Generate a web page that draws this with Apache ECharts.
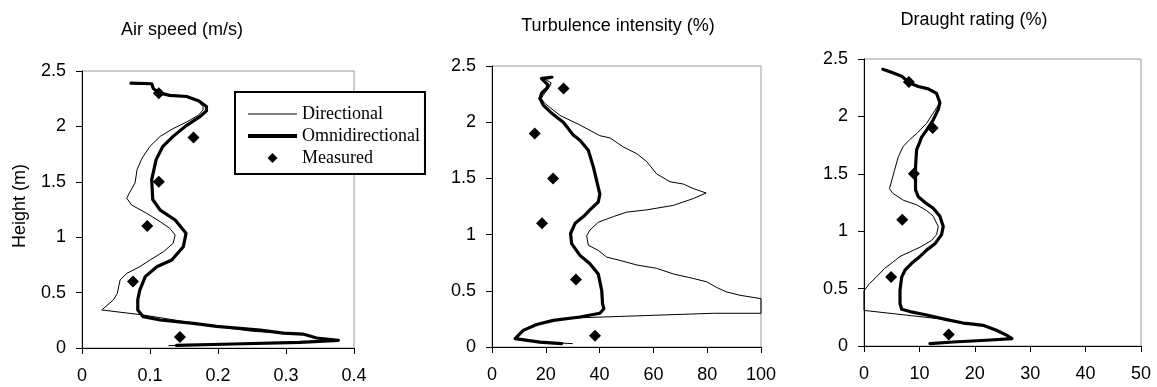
<!DOCTYPE html>
<html>
<head>
<meta charset="utf-8">
<script src="https://cdn.jsdelivr.net/npm/echarts@6/dist/echarts.min.js"></script>
<style>
html,body{margin:0;padding:0;background:#fff;}
#chart{width:1157px;height:387px;}
</style>
</head>
<body>
<div id="chart"></div>
<script>
// ---- Data (x value, height m) ----
var titles = ['Air speed (m/s)', 'Turbulence intensity (%)', 'Draught rating (%)'];
var seriesNames = ['Directional', 'Omnidirectional', 'Measured'];
var yAxisName = 'Height (m)';

var airDirectional = [[0.072,2.39],[0.1025,2.385],[0.105,2.34],[0.115,2.30],[0.129,2.28],[0.154,2.27],[0.170,2.23],[0.178,2.18],[0.178,2.148],[0.171,2.10],[0.154,2.04],[0.134,1.98],[0.115,1.91],[0.100,1.82],[0.088,1.71],[0.081,1.61],[0.078,1.49],[0.068,1.38],[0.066,1.35],[0.073,1.29],[0.095,1.216],[0.115,1.14],[0.129,1.08],[0.137,1.02],[0.134,0.945],[0.120,0.87],[0.100,0.794],[0.085,0.734],[0.066,0.674],[0.056,0.614],[0.052,0.494],[0.046,0.433],[0.029,0.343],[0.090,0.298],[0.164,0.225],[0.198,0.195],[0.252,0.15],[0.296,0.135],[0.325,0.126],[0.345,0.09],[0.377,0.069],[0.32,0.05],[0.222,0.036],[0.127,0.021]];
var airOmni = [[0.072,2.39],[0.1025,2.385],[0.105,2.34],[0.115,2.30],[0.129,2.28],[0.154,2.27],[0.172,2.23],[0.183,2.18],[0.183,2.14],[0.174,2.09],[0.154,2.01],[0.134,1.91],[0.119,1.82],[0.109,1.70],[0.1025,1.52],[0.104,1.34],[0.115,1.245],[0.137,1.155],[0.153,1.035],[0.149,0.914],[0.132,0.794],[0.110,0.734],[0.093,0.644],[0.085,0.523],[0.082,0.436],[0.082,0.343],[0.090,0.283],[0.115,0.253],[0.164,0.223],[0.198,0.195],[0.262,0.162],[0.296,0.135],[0.325,0.126],[0.345,0.09],[0.377,0.069],[0.32,0.05],[0.222,0.036],[0.139,0.024]];
var airMeasured = [[0.113,2.3],[0.164,1.9],[0.113,1.5],[0.096,1.1],[0.075,0.6],[0.144,0.1]];

var turbDirectional = [[17.8,2.39],[22.8,2.40],[19.5,2.385],[22.0,2.35],[21.3,2.31],[19.3,2.25],[18.3,2.21],[19.5,2.17],[25.3,2.06],[32.7,1.975],[40.1,1.88],[43.9,1.86],[48.8,1.78],[53.8,1.72],[57.5,1.65],[61.2,1.54],[66.2,1.47],[71.1,1.45],[74.8,1.41],[79.6,1.37],[74.8,1.32],[67.4,1.26],[57.5,1.22],[50.1,1.20],[45.1,1.16],[39.5,1.11],[36.4,1.04],[35.2,0.99],[35.8,0.905],[39.5,0.86],[42.6,0.80],[47.6,0.77],[53.8,0.73],[61.2,0.70],[67.4,0.65],[74.8,0.61],[79.8,0.58],[83.5,0.53],[87.2,0.49],[92.2,0.46],[100,0.43],[100,0.30],[82.3,0.30],[57.5,0.28],[32.7,0.26],[22.8,0.237],[16.6,0.20],[11.6,0.148],[8.6,0.074],[18.5,0.044],[30.0,0.03]];
var turbOmni = [[18.5,2.39],[22.2,2.40],[18.5,2.385],[20.9,2.33],[20.3,2.30],[18.5,2.26],[17.8,2.21],[19.1,2.15],[22.2,2.08],[26.5,2.00],[30.2,1.886],[32.7,1.84],[35.8,1.75],[37.7,1.60],[38.9,1.48],[40.1,1.36],[39.5,1.29],[36.4,1.22],[34.0,1.16],[30.9,1.10],[29.2,1.01],[29.6,0.92],[32.7,0.815],[36.4,0.74],[39.5,0.65],[40.8,0.50],[41.1,0.386],[41.6,0.34],[40.1,0.30],[32.7,0.267],[22.8,0.237],[16.6,0.20],[11.6,0.148],[8.6,0.074],[17.8,0.044],[25.9,0.03]];
var turbMeasured = [[26.6,2.3],[15.9,1.9],[22.7,1.5],[18.6,1.1],[31.2,0.6],[38.3,0.1]];

var draughtDirectional = [[3.4,2.41],[5.2,2.38],[6.8,2.35],[8.3,2.29],[9.8,2.26],[11.6,2.24],[13.1,2.20],[13.7,2.12],[12.5,2.03],[11.3,1.94],[9.5,1.85],[8.3,1.80],[7.1,1.74],[6.2,1.65],[5.5,1.53],[4.6,1.37],[5.2,1.33],[7.1,1.27],[9.5,1.23],[11.3,1.18],[12.5,1.13],[13.4,1.04],[13.1,0.97],[12.2,0.92],[10.1,0.86],[8.3,0.82],[6.5,0.78],[5.2,0.73],[3.7,0.675],[2.2,0.60],[1.0,0.544],[0,0.48],[0,0.31],[14.9,0.23],[17.9,0.20],[19.7,0.19],[21.5,0.18],[23.9,0.137],[25.8,0.093],[26.7,0.064],[22.1,0.05],[16.1,0.035],[11.9,0.02]];
var draughtOmni = [[3.4,2.41],[5.2,2.38],[6.8,2.35],[8.3,2.29],[9.8,2.26],[11.6,2.24],[13.1,2.20],[13.7,2.12],[13.4,2.06],[12.5,1.97],[11.3,1.88],[10.4,1.82],[10.1,1.78],[9.5,1.71],[9.3,1.56],[9.3,1.36],[9.8,1.30],[11.3,1.24],[12.5,1.20],[13.7,1.13],[14.3,1.04],[14.0,0.97],[12.8,0.89],[11.3,0.835],[10.1,0.78],[8.6,0.72],[7.4,0.66],[6.8,0.60],[6.5,0.486],[6.5,0.37],[6.8,0.32],[8.3,0.30],[11.3,0.27],[14.9,0.23],[17.9,0.20],[19.7,0.19],[21.5,0.18],[23.9,0.137],[25.8,0.093],[26.7,0.064],[22.1,0.05],[16.1,0.035],[11.9,0.02]];
var draughtMeasured = [[8.1,2.3],[12.4,1.9],[9.0,1.5],[6.9,1.1],[4.9,0.6],[15.3,0.1]];

var xMax = [0.4, 100, 50];
var xInterval = [0.1, 20, 10];
var yMax = 2.5, yInterval = 0.5;

// ---- Layout ----
var grids = [
  {left: 82, top: 71, width: 272, height: 277},
  {left: 492, top: 66, width: 269, height: 281},
  {left: 864, top: 59, width: 277, height: 287}
];
var titlePos = [[182, 30], [618, 26], [974, 20]];
var SANS = "'Liberation Sans', Arial, sans-serif";
var SERIF = "'Liberation Serif', 'Times New Roman', serif";

var panels = [
  [airDirectional, airOmni, airMeasured],
  [turbDirectional, turbOmni, turbMeasured],
  [draughtDirectional, draughtOmni, draughtMeasured]
];

var option = {
  animation: false,
  backgroundColor: '#fff',
  grid: grids.map(function (g) {
    return Object.assign({show: true, borderColor: '#999', borderWidth: 1, backgroundColor: 'transparent'}, g);
  }),
  xAxis: [0, 1, 2].map(function (i) {
    return {
      type: 'value', gridIndex: i, min: 0, max: xMax[i], interval: xInterval[i],
      axisLine: {show: true, onZero: false, lineStyle: {color: '#000', width: 1}},
      axisTick: {show: true, inside: false, length: 6, lineStyle: {color: '#000'}},
      axisLabel: {color: '#000', fontFamily: SANS, fontSize: 18, margin: 19},
      splitLine: {show: false}
    };
  }),
  yAxis: [0, 1, 2].map(function (i) {
    return {
      type: 'value', gridIndex: i, min: 0, max: yMax, interval: yInterval,
      axisLine: {show: true, onZero: false, lineStyle: {color: '#000', width: 1}},
      axisTick: {show: true, inside: false, length: 6, lineStyle: {color: '#000'}},
      axisLabel: {color: '#000', fontFamily: SANS, fontSize: 18, margin: 16},
      splitLine: {show: false}
    };
  }),
  legend: {
    show: true, type: 'plain',
    left: 235, top: 92, orient: 'vertical',
    padding: [12, 5, 6, 13], itemGap: 2,
    itemWidth: 49, itemHeight: 10, symbolKeepAspect: true,
    borderColor: '#000', borderWidth: 2, backgroundColor: '#fff',
    textStyle: {fontFamily: SERIF, fontSize: 18, color: '#000', lineHeight: 20},
    data: [
      {name: seriesNames[0], icon: 'path://M0,0H49V1H0Z', itemStyle: {color: '#000', borderWidth: 0}},
      {name: seriesNames[1], icon: 'path://M0,0H49V4H0Z', itemStyle: {color: '#000', borderWidth: 0}},
      {name: seriesNames[2], icon: 'path://M5,0L10,5L5,10L0,5Z', itemStyle: {color: '#000', borderWidth: 0}}
    ],
    selectedMode: false
  },
  graphic: titles.map(function (t, i) {
    return {type: 'text', x: titlePos[i][0], y: titlePos[i][1], style: {text: t, fill: '#000', font: '18px ' + SANS, align: 'center', verticalAlign: 'middle'}};
  }).concat([{
    type: 'text', x: 20, y: 206, rotation: Math.PI / 2,
    style: {text: yAxisName, fill: '#000', font: '18px ' + SANS, align: 'center', verticalAlign: 'middle'}
  }]),
  series: []
};

panels.forEach(function (p, i) {
  option.series.push({
    name: seriesNames[0], type: 'line', xAxisIndex: i, yAxisIndex: i, data: p[0],
    symbol: 'none', clip: false, lineStyle: {color: '#000', width: 1, join: 'round'}, itemStyle: {color: '#000'}, z: 2
  });
  option.series.push({
    name: seriesNames[1], type: 'line', xAxisIndex: i, yAxisIndex: i, data: p[1],
    symbol: 'none', clip: false, lineStyle: {color: '#000', width: 3.2, join: 'round', cap: 'round'}, itemStyle: {color: '#000'}, z: 3
  });
  option.series.push({
    name: seriesNames[2], type: 'scatter', xAxisIndex: i, yAxisIndex: i, data: p[2],
    symbol: 'diamond', symbolSize: 12, itemStyle: {color: '#000', opacity: 1}, z: 4
  });
});

var chart = echarts.init(document.getElementById('chart'), null, {renderer: 'canvas'});
chart.setOption(option);
</script>
</body>
</html>
